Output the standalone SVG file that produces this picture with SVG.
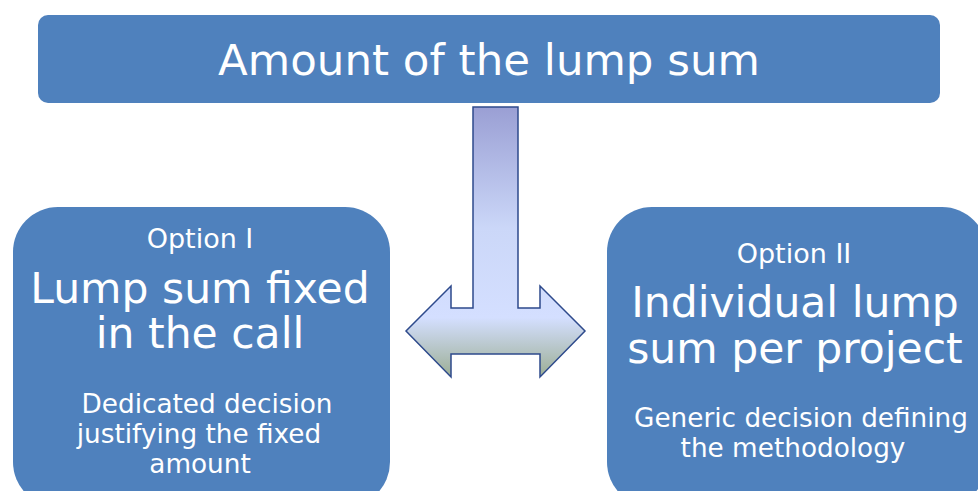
<svg xmlns="http://www.w3.org/2000/svg" width="978" height="491" viewBox="0 0 978 491">
<defs>
<style>
.box{fill:#4F81BD;}
text{font-family:"DejaVu Sans","Verdana",sans-serif;fill:#FFFFFF;text-anchor:middle;}
.big{font-size:42.5px;}
.top{font-size:43.5px;}
.opt{font-size:27px;}
.desc{font-size:26.3px;}
</style>
<linearGradient id="arrowGrad" gradientUnits="userSpaceOnUse" x1="0" y1="107" x2="0" y2="377">
<stop offset="0" stop-color="#9A9FD4"/>
<stop offset="0.45" stop-color="#CBD7F8"/>
<stop offset="0.78" stop-color="#D4DFFF"/>
<stop offset="1" stop-color="#9CAE94"/>
</linearGradient>
</defs>
<rect width="978" height="491" fill="#FFFFFF"/>
<g id="top">
<rect class="box" x="38" y="15" width="902" height="88" rx="10"/>
<text class="top" x="489" y="75">Amount of the lump sum</text>
</g>
<g id="connectors">
<path d="M473,107 L518,107 L518,308 L540,308 L540,286 L585,331 L540,377 L540,354 L451,354 L451,377 L406,331 L451,286 L451,308 L473,308 Z" fill="url(#arrowGrad)" stroke="#2E4A8C" stroke-width="1.5"/>
</g>
<g id="option1">
<rect class="box" x="13" y="207" width="377" height="300" rx="45"/>
<text class="opt" x="200" y="248">Option I</text>
<text class="big" x="200" y="303">Lump sum fixed</text>
<text class="big" x="200" y="348">in the call</text>
<text class="desc" x="207" y="413">Dedicated decision</text>
<text class="desc" x="199" y="443">justifying the fixed</text>
<text class="desc" x="200" y="473">amount</text>
</g>
<g id="option2">
<rect class="box" x="607" y="207" width="380" height="300" rx="45"/>
<text class="opt" x="794" y="263">Option II</text>
<text class="big" x="795" y="317">Individual lump</text>
<text class="big" x="795" y="363">sum per project</text>
<text class="desc" x="801" y="427">Generic decision defining</text>
<text class="desc" x="793" y="457">the methodology</text>
</g>
</svg>
